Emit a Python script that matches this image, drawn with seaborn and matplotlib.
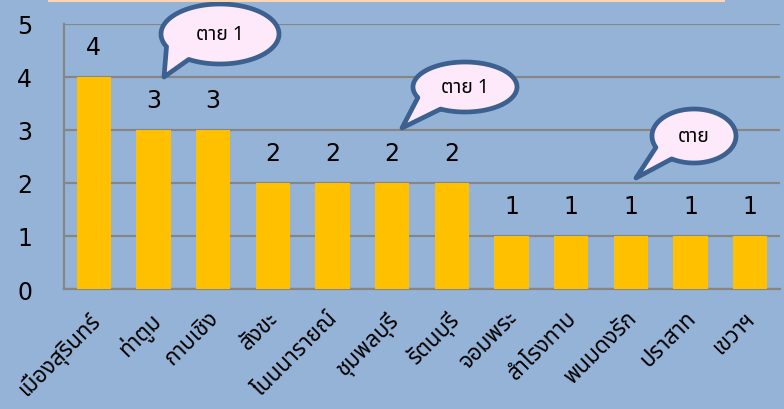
import matplotlib
matplotlib.use("Agg")
import matplotlib.pyplot as plt
from matplotlib import font_manager as fm
from matplotlib.ft2font import FT2Font
from matplotlib.path import Path
from matplotlib.patches import PathPatch, Rectangle
import matplotlib.transforms as mtrans
import numpy as np
import pandas as pd
import seaborn as sns

# ---------------- data ----------------
districts = ["เมืองสุรินทร์", "ท่าตูม", "กาบเชิง", "สังขะ", "โนนนารายณ์", "ชุมพลบุรี",
             "รัตนบุรี", "จอมพระ", "สำโรงทาบ", "พนมดงรัก", "ปราสาท", "เขวาฯ"]
counts = [4, 3, 3, 2, 2, 2, 2, 1, 1, 1, 1, 1]
y_ticks = [0, 1, 2, 3, 4, 5]
callout_texts = ["ตาย 1", "ตาย 1", "ตาย"]

# ---------------- font with Thai glyphs ----------------
thai_names = []
for f in fm.fontManager.ttflist:
    try:
        if FT2Font(f.fname).get_char_index(0x0E01):
            if f.name not in thai_names:
                thai_names.append(f.name)
    except Exception:
        pass
pref = ["Tahoma", "Noto Sans Thai", "Noto Sans Thai UI", "Leelawadee UI", "Loma",
        "Garuda", "Sarabun", "Waree", "Umpush", "Kinnari", "Norasi"]
thai_font = None
for p in pref:
    if p in thai_names:
        thai_font = p
        break
if thai_font is None and thai_names:
    thai_font = thai_names[0]
families = ([thai_font] if thai_font else []) + ["DejaVu Sans"]

sns.set_style("white")
plt.rcParams["font.family"] = families
plt.rcParams["text.color"] = "black"
plt.rcParams["xtick.color"] = "black"
plt.rcParams["ytick.color"] = "black"

W, H = 784, 410
fig = plt.figure(figsize=(W / 100, H / 100), dpi=100)
fig.patch.set_facecolor("#95B3D7")
ax = fig.add_axes([64 / W, (H - 290) / H, (780 - 64) / W, (290 - 25) / H])
ax.set_facecolor("#95B3D7")

df = pd.DataFrame({"district": districts, "count": counts})
sns.barplot(data=df, x="district", y="count", color="#FFC000", saturation=1,
            width=0.57, ax=ax, zorder=3, linewidth=0, edgecolor="none")

ax.set_ylim(0, 5)
ax.set_yticks(y_ticks)
ax.set_yticklabels([str(t) for t in y_ticks], fontsize=17, family=["DejaVu Sans"],
                   color="black")
ax.yaxis.grid(True, color="#868686", linewidth=1.6)
ax.set_axisbelow(True)
ax.tick_params(axis="y", length=0, pad=23)
ax.tick_params(axis="x", length=0, pad=13)
ax.set_xlabel("")
ax.set_ylabel("")
for s in ["top", "right"]:
    ax.spines[s].set_visible(False)
for s in ["left", "bottom"]:
    ax.spines[s].set_color("#868686")
    ax.spines[s].set_linewidth(1.6)

offset = mtrans.ScaledTranslation(-5 / 100, 0, fig.dpi_scale_trans)
for lbl in ax.get_xticklabels():
    lbl.set_rotation(45)
    lbl.set_ha("right")
    lbl.set_rotation_mode("anchor")
    lbl.set_fontsize(16)
    lbl.set_family(families)
    lbl.set_color("black")
    lbl.set_transform(lbl.get_transform() + offset)

for i, v in enumerate(counts):
    ax.annotate(str(v), (i, v), xytext=(0, 13), textcoords="offset points",
                ha="center", va="bottom", fontsize=17, family=["DejaVu Sans"],
                color="black")

# ---------------- callouts (pixel coords, y down) ----------------
pix = mtrans.Affine2D().scale(1, -1).translate(0, H).scale(1 / W, 1 / H) + fig.transFigure

def callout(cx, cy, a, b, tip, ang1, ang2, text):
    # angles in y-up convention (degrees); gap between ang1 and ang2
    th = np.radians(np.linspace(ang2, ang1 + 360, 200))
    xs = cx + a * np.cos(th)
    ys = cy - b * np.sin(th)
    verts = list(zip(xs, ys)) + [tip, (xs[0], ys[0])]
    codes = [Path.MOVETO] + [Path.LINETO] * (len(verts) - 2) + [Path.CLOSEPOLY]
    patch = PathPatch(Path(verts, codes), facecolor="#FDE9F9", edgecolor="#3C6090",
                      linewidth=3.4, transform=pix, zorder=10, joinstyle="round")
    fig.add_artist(patch)
    fig.text(cx / W, 1 - cy / H, text, ha="center", va="center", fontsize=14,
             family=families, zorder=11, color="black")

callout(220, 35, 59, 30, (164, 78), 205, 238, callout_texts[0])
callout(465, 88, 52, 25, (402, 129), 205, 242, callout_texts[1])
callout(694, 137, 42, 27, (636, 179), 205, 238, callout_texts[2])

# top strip
fig.add_artist(Rectangle((48, 0), 677, 2.5, transform=pix, facecolor="#FCD5B5",
                         edgecolor="none", zorder=12))

fig.savefig("out.png", dpi=100, facecolor=fig.get_facecolor())
